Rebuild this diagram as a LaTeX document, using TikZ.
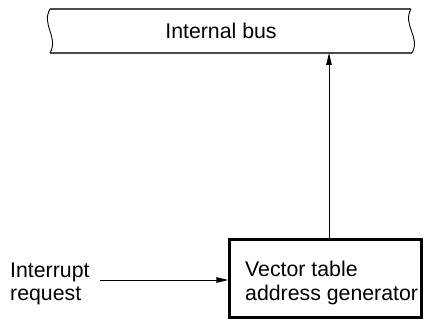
\documentclass[tikz,border=0pt]{standalone}
\usepackage{fontspec}
\setmainfont{Liberation Sans}
\usetikzlibrary{arrows.meta}
\begin{document}
\begin{tikzpicture}[x=1pt,y=-1pt,
  lbl/.style={inner sep=0pt,anchor=base west,font=\fontsize{21.3}{24}\selectfont},
  busline/.style={line width=1.3pt,draw=black!70},
  conn/.style={line width=0.9pt,-{Triangle[length=12pt,width=5.5pt]}}]
\useasboundingbox (0,0) rectangle (424,320);
% bus
\draw[busline] (50,9) -- (411,9);
\draw[busline] (50,53) -- (412,53);
\draw[line width=0.9pt] (50,9) .. controls (41,25) and (59,37) .. (50,53);
\draw[line width=0.9pt] (411,9) .. controls (402,25) and (421,37) .. (412,53);
\node[inner sep=0pt,minimum width=361pt,minimum height=44pt] (bus) at (231,31) {};
\node[inner sep=0pt,font=\fontsize{21.3}{24}\selectfont,anchor=base] (buslbl) at (221,39) {Internal bus};
% box
\node[draw,line width=2.3pt,minimum width=192pt,minimum height=78pt,inner sep=0pt] (box) at (325.5,278.5) {};
\node[lbl] (v1) at (245,277) {Vector table};
\node[lbl] (v2) at (245,301) {address generator};
% interrupt
\node[lbl] (i1) at (10,278) {Interrupt};
\node[lbl] (i2) at (10,301) {request};
\coordinate (irq) at (100,280);
\draw[conn] (irq) -- (irq -| box.west);
\coordinate (up) at (329,53);
\draw[conn] (up |- box.north) -- (up);
\end{tikzpicture}
\end{document}
